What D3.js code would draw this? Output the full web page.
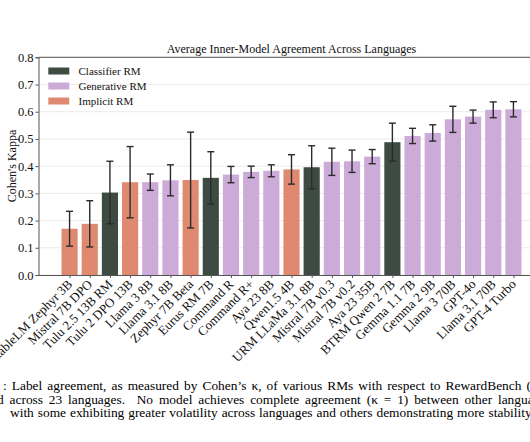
<!DOCTYPE html>
<html><head><meta charset="utf-8">
<script src="https://cdn.jsdelivr.net/npm/d3@7"></script>
<style>
body{margin:0;background:#fff;overflow:hidden}
svg{display:block;font-family:"Liberation Serif","Times New Roman",serif}
</style></head><body>
<svg id="c" width="530" height="442"></svg>
<script>
const categories = ["StableLM Zephyr 3B","Mistral 7B DPO","Tulu 2.5 13B RM","Tulu 2 DPO 13B","Llama 3 8B","Llama 3.1 8B","Zephyr 7B Beta","Eurus RM 7B","Command R","Command R+","Aya 23 8B","Qwen1.5 4B","URM LLaMa 3.1 8B","Mistral 7B v0.3","Mistral 7B v0.2","Aya 23 35B","BTRM Qwen 2 7B","Gemma 1.1 7B","Gemma 2 9B","Llama 3 70B","GPT-4o","Llama 3.1 70B","GPT-4 Turbo"];
const means = [0.170,0.188,0.303,0.341,0.341,0.348,0.349,0.357,0.369,0.379,0.383,0.388,0.396,0.416,0.418,0.435,0.488,0.511,0.522,0.572,0.582,0.607,0.609];
const errors = [0.064,0.085,0.115,0.131,0.030,0.057,0.176,0.096,0.030,0.021,0.022,0.054,0.079,0.050,0.041,0.026,0.070,0.028,0.030,0.048,0.024,0.029,0.028];
const types = ["Implicit RM","Implicit RM","Classifier RM","Implicit RM","Generative RM","Generative RM","Implicit RM","Classifier RM","Generative RM","Generative RM","Generative RM","Implicit RM","Classifier RM","Generative RM","Generative RM","Generative RM","Classifier RM","Generative RM","Generative RM","Generative RM","Generative RM","Generative RM","Generative RM"];
const legendTypes = ["Classifier RM","Generative RM","Implicit RM"];
const typeColors = ["#3d4b42","#cdabd9","#df8a70"];
const yTicks = [0,0.1,0.2,0.3,0.4,0.5,0.6,0.7,0.8];
const title = "Average Inner-Model Agreement Across Languages";
const yLabel = "Cohen's Kappa";
const captionLines = [
  ": Label agreement, as measured by Cohen\u2019s \u03BA, of various RMs with respect to RewardBench (English)",
  "d across 23 languages.\u00A0 No model achieves complete agreement (\u03BA = 1) between other languages and English,",
  "with some exhibiting greater volatility across languages and others demonstrating more stability."
];

const svg = d3.select("#c");
const L = 38.5, R = 544.5, T = 57.3, B = 275;
const x = d3.scaleLinear().domain([-1.54, 23.54]).range([L, R]);
const y = d3.scaleLinear().domain([0, 0.8]).range([B, T]);
const color = d3.scaleOrdinal().domain(legendTypes).range(typeColors);
const bw = x(0.4) - x(-0.4);

// grid
svg.append("g").selectAll("line").data(yTicks).join("line")
  .attr("x1", L).attr("x2", R).attr("y1", d => y(d)).attr("y2", d => y(d))
  .attr("stroke", "#ebebeb").attr("stroke-width", 1);

// bars
svg.append("g").selectAll("rect").data(means).join("rect")
  .attr("x", (d, i) => x(i) - bw / 2).attr("width", bw)
  .attr("y", d => y(d)).attr("height", d => B - y(d))
  .attr("fill", (d, i) => color(types[i]));

// error bars
const eb = svg.append("g").attr("stroke", "#2b2b2b").attr("stroke-width", 1.4);
means.forEach((m, i) => {
  const cx = x(i), y1 = y(m + errors[i]), y0 = y(m - errors[i]);
  eb.append("line").attr("x1", cx).attr("x2", cx).attr("y1", y1).attr("y2", y0);
  eb.append("line").attr("x1", cx - 3.5).attr("x2", cx + 3.5).attr("y1", y1).attr("y2", y1);
  eb.append("line").attr("x1", cx - 3.5).attr("x2", cx + 3.5).attr("y1", y0).attr("y2", y0);
});

// y axis
const yAxis = d3.axisLeft(y).tickValues(yTicks).tickFormat(d3.format(".1f")).tickSize(3).tickPadding(2);
const gy = svg.append("g").attr("transform", `translate(${L},0)`).call(yAxis);
gy.attr("font-family", null);
gy.select(".domain").attr("stroke", "#555");
gy.selectAll(".tick line").attr("stroke", "#555");
gy.selectAll(".tick text").attr("font-size", 12.5).attr("fill", "#111");

// x axis
const xAxis = d3.axisBottom(x).tickValues(d3.range(categories.length)).tickFormat(i => categories[i]).tickSize(3).tickSizeOuter(0);
const gx = svg.append("g").attr("transform", `translate(0,${B})`).call(xAxis);
gx.attr("font-family", null);
gx.select(".domain").attr("stroke", "#555");
gx.selectAll(".tick line").attr("stroke", "#555");
gx.selectAll(".tick text").attr("font-size", 13).attr("fill", "#111")
  .attr("text-anchor", "end").attr("y", 0).attr("dy", 0)
  .attr("transform", "translate(3,10) rotate(-45)");

// top spine
svg.append("line").attr("x1", L).attr("x2", R).attr("y1", T).attr("y2", T).attr("stroke", "#555");

// title
svg.append("text").attr("x", (L + R) / 2).attr("y", 53).attr("text-anchor", "middle")
  .attr("font-size", 12).attr("fill", "#111").text(title);

// y label
svg.append("text").attr("transform", `translate(16,166) rotate(-90)`)
  .attr("text-anchor", "middle").attr("font-size", 12).attr("fill", "#111").text(yLabel);

// legend
const lg = svg.append("g");
legendTypes.forEach((t, i) => {
  lg.append("rect").attr("x", 48.3).attr("y", 67.5 + i * 15).attr("width", 21).attr("height", 7).attr("fill", color(t));
  lg.append("text").attr("x", 78.5).attr("y", 75 + i * 15).attr("font-size", 11).attr("fill", "#111").text(t);
});

// caption
const cap = svg.append("g").attr("font-size", 13.4).attr("fill", "#000");
cap.append("text").attr("x", 3).attr("y", 390).attr("word-spacing", 1.7).text(captionLines[0]);
cap.append("text").attr("x", -3).attr("y", 404).attr("word-spacing", 2.5).text(captionLines[1]);
cap.append("text").attr("x", 10).attr("y", 417).attr("word-spacing", 0.6).text(captionLines[2]);
</script></body></html>
